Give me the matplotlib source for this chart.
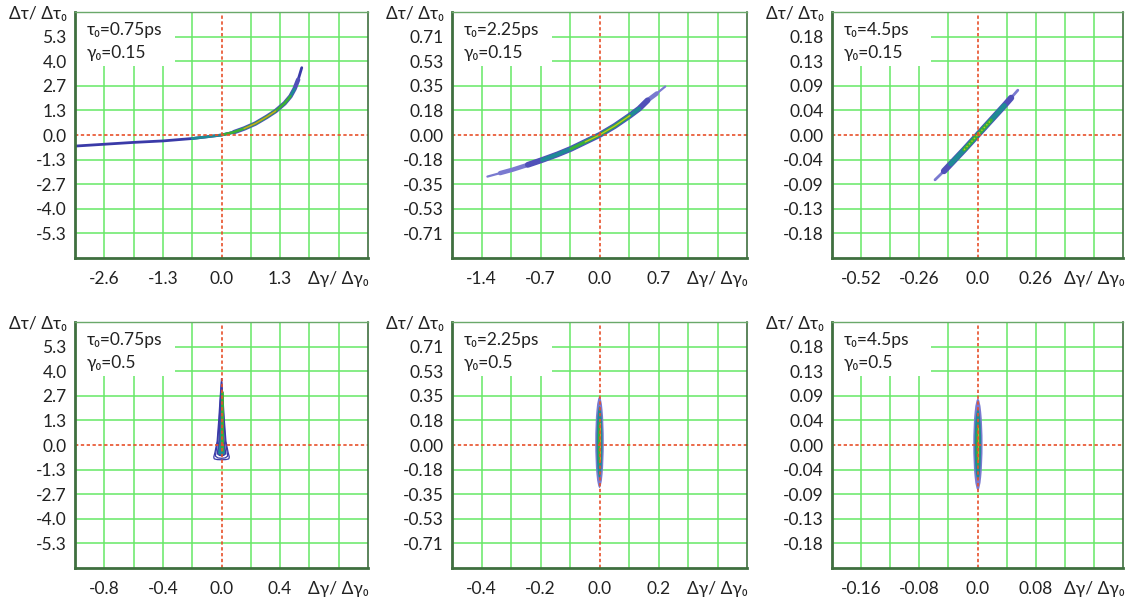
import numpy as np
import matplotlib
matplotlib.use("Agg")
import matplotlib.pyplot as plt
from matplotlib.patches import Ellipse, Rectangle

plt.rcParams['font.family'] = ['Lato', 'DejaVu Sans']
plt.rcParams['lines.solid_capstyle'] = 'round'
plt.rcParams['lines.solid_joinstyle'] = 'round'

# panel captions
tau0 = ["0.75ps", "2.25ps", "4.5ps", "0.75ps", "2.25ps", "4.5ps"]
gam0 = ["0.15", "0.15", "0.15", "0.5", "0.5", "0.5"]

# grid steps (one grid cell) and tick labels of each panel
x_step = [0.65, 0.35, 0.13, 0.2, 0.1, 0.04]
y_step = [4 / 3, 0.1775, 0.045, 4 / 3, 0.1775, 0.045]
x_labels = [["-2.6", "-1.3", "0.0", "1.3"],
            ["-1.4", "-0.7", "0.0", "0.7"],
            ["-0.52", "-0.26", "0.0", "0.26"],
            ["-0.8", "-0.4", "0.0", "0.4"],
            ["-0.4", "-0.2", "0.0", "0.2"],
            ["-0.16", "-0.08", "0.0", "0.08"]]
y_labels_a = ["5.3", "4.0", "2.7", "1.3", "0.0", "-1.3", "-2.7", "-4.0", "-5.3"]
y_labels_b = ["0.71", "0.53", "0.35", "0.18", "0.00", "-0.18", "-0.35", "-0.53", "-0.71"]
y_labels_c = ["0.18", "0.13", "0.09", "0.04", "0.00", "-0.04", "-0.09", "-0.13", "-0.18"]
y_labels = [y_labels_a, y_labels_b, y_labels_c, y_labels_a, y_labels_b, y_labels_c]

# ridge of the distribution, top row
ridge1_x = [-3.25, -2.6, -1.95, -1.3, -0.65, -0.3, 0.0, 0.27, 0.5, 0.75, 1.0, 1.2, 1.4, 1.53, 1.62, 1.7, 1.78]
ridge1_y = [-0.60, -0.50, -0.40, -0.32, -0.19, -0.09, 0.0, 0.15, 0.35, 0.62, 0.98, 1.3, 1.72, 2.1, 2.5, 3.0, 3.65]
ridge2_x = [-1.33, -1.18, -1.03, -0.85, -0.68, -0.5, -0.34, -0.17, 0.0, 0.18, 0.36, 0.47, 0.57, 0.68, 0.78]
ridge2_y = [-0.30, -0.275, -0.25, -0.215, -0.18, -0.14, -0.10, -0.05, 0.0, 0.065, 0.14, 0.19, 0.25, 0.30, 0.35]
ridge3_x = [-0.19, -0.15, -0.12, -0.06, 0.0, 0.06, 0.12, 0.15, 0.18]
ridge3_y = [-0.082, -0.066, -0.053, -0.027, 0.0, 0.027, 0.054, 0.068, 0.082]

# bottom-left: teardrop contours
drop_outer_x = [0.0, 0.01, 0.019, 0.03, 0.045, 0.053, 0.05, 0.03, 0.0,
                -0.03, -0.05, -0.053, -0.045, -0.03, -0.019, -0.01, 0.0]
drop_outer_y = [3.6, 2.5, 1.35, 0.2, -0.4, -0.65, -0.75, -0.79, -0.80,
                -0.79, -0.75, -0.65, -0.4, 0.2, 1.35, 2.5, 3.6]
drop_mid_x = [0.0, 0.009, 0.016, 0.026, 0.038, 0.042, 0.025, 0.0,
              -0.025, -0.042, -0.038, -0.026, -0.016, -0.009, 0.0]
drop_mid_y = [3.4, 2.3, 1.3, 0.2, -0.38, -0.6, -0.7, -0.72,
              -0.7, -0.6, -0.38, 0.2, 1.3, 2.3, 3.4]
drop_inner_x = [0.0, 0.007, 0.012, 0.018, 0.026, 0.028, 0.015, 0.0,
                -0.015, -0.028, -0.026, -0.018, -0.012, -0.007, 0.0]
drop_inner_y = [3.1, 2.1, 1.2, 0.2, -0.3, -0.48, -0.56, -0.58,
                -0.56, -0.48, -0.3, 0.2, 1.2, 2.1, 3.1]
drop_core_y = [-0.25, 2.9]

# bottom middle / right: ellipse sizes (center, full widths, full heights)
ell5_center = (0.0, 0.02)
ell5_w = [0.029, 0.02, 0.01]
ell5_h = [0.66, 0.52, 0.34]
ell6_center = (0.0005, 0.001)
ell6_w = [0.0128, 0.009, 0.0045]
ell6_h = [0.168, 0.13, 0.08]

# colours of density levels, low -> high
lev_col = ["#3a3aa8", "#1f8a96", "#3cb034", "#d0a020"]
pale_blue = "#7a7ad0"
mid_blue = "#5050b8"
grid_col = "#66e866"
frame_col = "#3f6f3f"
zero_col = "#e8502a"

fig = plt.figure(figsize=(11.32, 6.01), dpi=100)
lefts = [0.0663, 0.3993, 0.735]
widths = [0.2588, 0.2606, 0.2571]
bottoms = [0.5707, 0.0549]
h = 0.4093

axes = []
for r in range(2):
    for c in range(3):
        axes.append(fig.add_axes([lefts[c], bottoms[r], widths[c], h]))


def sub(xs, ys, lo, hi):
    xx = [a for a in xs if lo <= a <= hi]
    yy = [b for a, b in zip(xs, ys) if lo <= a <= hi]
    return xx, yy


for i, ax in enumerate(axes):
    xs, ys = x_step[i], y_step[i]
    ax.set_xlim(-5 * xs, 5 * xs)
    ax.set_ylim(-5 * ys, 5 * ys)
    for k in range(-4, 5):
        if k != 0:
            ax.axvline(k * xs, color=grid_col, lw=1.1, zorder=0.5)
            ax.axhline(k * ys, color=grid_col, lw=1.1, zorder=0.5)
    ax.axvline(0, color=zero_col, lw=1.2, ls=(0, (2, 1.5)), zorder=3)
    ax.axhline(0, color=zero_col, lw=1.2, ls=(0, (2, 1.5)), zorder=3)

    # caption box hides the grid behind it
    ax.add_patch(Rectangle((0, 0.78), 0.34, 0.22, transform=ax.transAxes,
                           facecolor="white", edgecolor="none", zorder=1))
    ax.text(0.04, 0.927, "τ₀=" + tau0[i], transform=ax.transAxes,
            fontsize=12.5, va="center", color="#222222", zorder=4)
    ax.text(0.04, 0.835, "γ₀=" + gam0[i], transform=ax.transAxes,
            fontsize=12.5, va="center", color="#222222", zorder=4)

    ax.set_xticks([k * xs for k in (-4, -2, 0, 2, 4)])
    ax.set_xticklabels(x_labels[i] + ["Δγ/ Δγ₀"])
    ax.set_yticks([k * ys for k in range(5, -5, -1)])
    ax.set_yticklabels(["Δτ/ Δτ₀"] + y_labels[i])
    ax.tick_params(length=0, labelsize=12.5, labelcolor="#222222")
    ax.tick_params(axis="x", pad=9)
    ax.tick_params(axis="y", pad=6)

    for s in ax.spines.values():
        s.set_color(frame_col)
        s.set_zorder(5)
    ax.spines["left"].set_linewidth(2.0)
    ax.spines["bottom"].set_linewidth(2.0)
    ax.spines["top"].set_linewidth(1.0)
    ax.spines["right"].set_linewidth(1.2)
    ax.spines["top"].set_color("#6aa86a")

# top row: ridges drawn as layered bands
a = axes[0]
a.plot(ridge1_x, ridge1_y, color=lev_col[0], lw=2.0, zorder=2)
a.plot(*sub(ridge1_x, ridge1_y, 0.27, 1.7), color=mid_blue, lw=3.2, zorder=2)
a.plot(*sub(ridge1_x, ridge1_y, -0.65, 1.62), color=lev_col[1], lw=2.0, zorder=2)
a.plot(*sub(ridge1_x, ridge1_y, 0.0, 1.53), color=lev_col[2], lw=1.8, zorder=2)
a.plot(*sub(ridge1_x, ridge1_y, 0.5, 1.3), color=lev_col[3], lw=1.0, zorder=2)

a = axes[1]
a.plot(ridge2_x, ridge2_y, color=pale_blue, lw=1.6, zorder=2)
a.plot(*sub(ridge2_x, ridge2_y, -1.18, 0.68), color=pale_blue, lw=3.2, zorder=2)
a.plot(*sub(ridge2_x, ridge2_y, -0.85, 0.57), color=mid_blue, lw=4.2, zorder=2)
a.plot(*sub(ridge2_x, ridge2_y, -0.68, 0.47), color=lev_col[1], lw=2.8, zorder=2)
a.plot(*sub(ridge2_x, ridge2_y, -0.34, 0.36), color=lev_col[2], lw=2.0, zorder=2)
a.plot(*sub(ridge2_x, ridge2_y, -0.17, 0.36), color="#c8c820", lw=0.9, zorder=2)

a = axes[2]
a.plot(ridge3_x, ridge3_y, color=pale_blue, lw=2.0, zorder=2)
a.plot(*sub(ridge3_x, ridge3_y, -0.15, 0.15), color=mid_blue, lw=4.5, zorder=2)
a.plot(*sub(ridge3_x, ridge3_y, -0.12, 0.12), color=lev_col[1], lw=3.5, zorder=2)
a.plot(*sub(ridge3_x, ridge3_y, -0.06, 0.06), color=lev_col[2], lw=2.6, zorder=2)
a.plot(*sub(ridge3_x, ridge3_y, -0.06, 0.06), color="#c8c820", lw=1.0, ls=":", zorder=2)

# bottom row
a = axes[3]
a.plot(drop_outer_x, drop_outer_y, color=lev_col[0], lw=0.9, zorder=2)
a.plot(drop_mid_x, drop_mid_y, color=lev_col[0], lw=0.9, zorder=2)
a.fill(drop_inner_x, drop_inner_y, facecolor=lev_col[1], edgecolor=lev_col[0], lw=0.9, zorder=2)
a.plot([0, 0], drop_core_y, color=lev_col[2], lw=2.0, zorder=2)

for a, cen, ws, hs in [(axes[4], ell5_center, ell5_w, ell5_h),
                       (axes[5], ell6_center, ell6_w, ell6_h)]:
    for w, hh, col in zip(ws, hs, [pale_blue, lev_col[1], lev_col[2]]):
        a.add_patch(Ellipse(cen, w, hh, facecolor=col, edgecolor="none", zorder=2))
    a.plot([cen[0], cen[0]], [cen[1] - hs[2] * 0.4, cen[1] + hs[2] * 0.4],
           color=lev_col[3], lw=0.8, zorder=2)

fig.savefig("out.png", dpi=100)
